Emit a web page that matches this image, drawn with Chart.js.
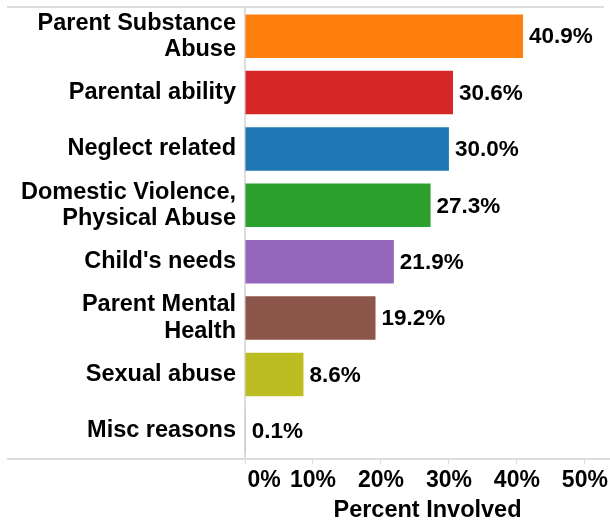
<!DOCTYPE html>
<html>
<head>
<meta charset="utf-8">
<script src="https://cdn.jsdelivr.net/npm/chart.js@4"></script>
<style>
  html, body { margin: 0; padding: 0; background: #fff; }
  #wrap { width: 610px; height: 522px; position: relative; }
</style>
</head>
<body>
<div id="wrap"><canvas id="chart"></canvas></div>
<script>
const categories = [
  ["Parent Substance", "Abuse"],
  "Parental ability",
  "Neglect related",
  ["Domestic Violence,", "Physical Abuse"],
  "Child's needs",
  ["Parent Mental", "Health"],
  "Sexual abuse",
  "Misc reasons"
]
const percents = [40.9, 30.6, 30.0, 27.3, 21.9, 19.2, 8.6, 0.1]
const barColors = ['#ff7f0e', '#d62728', '#1f77b4', '#2ca02c', '#9467bd', '#8c564b', '#bcbd22', '#7f7f7f']
const xTicks = [0, 10, 20, 30, 40, 50]

const FONT = "'Liberation Sans', Arial, sans-serif"
const LINE = '#dddddd'
const TEXT = '#000'

// value labels at the end of each bar
const valueLabels = {
  id: 'valueLabels',
  afterDatasetsDraw(chart) {
    const ctx = chart.ctx
    const meta = chart.getDatasetMeta(0)
    ctx.save()
    ctx.font = 'bold 22.5px ' + FONT
    ctx.fillStyle = TEXT
    ctx.textBaseline = 'middle'
    ctx.textAlign = 'left'
    meta.data.forEach((bar, i) => {
      ctx.fillText(percents[i].toFixed(1) + '%', bar.x + 6, bar.y + 1)
    })
    ctx.restore()
  }
}

// row divider lines that run under the category labels too
const rowLines = {
  id: 'rowLines',
  beforeDatasetsDraw(chart) {
    const { ctx, chartArea } = chart
    ctx.save()
    ctx.strokeStyle = LINE
    ctx.lineWidth = 2
    ctx.beginPath()
    ctx.moveTo(7, chartArea.top - 1)
    ctx.lineTo(604, chartArea.top - 1)
    ctx.moveTo(7, chartArea.bottom)
    ctx.lineTo(chart.width, chartArea.bottom)
    ctx.stroke()
    ctx.restore()
  }
}

new Chart(document.getElementById('chart'), {
  type: 'bar',
  data: {
    labels: categories,
    datasets: [{
      data: percents,
      backgroundColor: barColors,
      categoryPercentage: 1,
      barPercentage: 0.77
    }]
  },
  options: {
    indexAxis: 'y',
    responsive: true,
    maintainAspectRatio: false,
    animation: false,
    layout: { padding: { top: 8, left: 0, right: 0, bottom: 0 } },
    plugins: {
      legend: { display: false },
      tooltip: { enabled: false }
    },
    scales: {
      x: {
        min: 0,
        max: 53.7,
        afterBuildTicks(scale) {
          scale.ticks = xTicks.map(v => ({ value: v }))
        },
        afterFit(scale) {
          scale.height = 63
          scale.paddingLeft = 0
          scale.paddingRight = 0
        },
        grid: { drawOnChartArea: false, drawTicks: true, tickLength: 5, color: LINE, lineWidth: 1 },
        border: { display: false },
        ticks: {
          autoSkip: false,
          maxRotation: 0,
          padding: 3,
          color: TEXT,
          font: { family: FONT, size: 23, weight: 'bold' },
          callback: v => v === 0 ? '      0%' : v + '%'
        },
        title: {
          display: true,
          text: 'Percent Involved',
          color: TEXT,
          font: { family: FONT, size: 23.5, weight: 'bold', lineHeight: 1 },
          padding: { top: 0, bottom: 0 }
        }
      },
      y: {
        afterFit(scale) {
          scale.width = 245
          scale.paddingTop = 0
          scale.paddingBottom = 0
        },
        grid: { display: false, drawTicks: false },
        border: { display: true, color: LINE, width: 2 },
        ticks: {
          autoSkip: false,
          padding: 9,
          color: TEXT,
          font: { family: FONT, size: 23.5, weight: 'bold', lineHeight: 1.12 }
        }
      }
    }
  },
  plugins: [rowLines, valueLabels]
})
</script>
</body>
</html>
